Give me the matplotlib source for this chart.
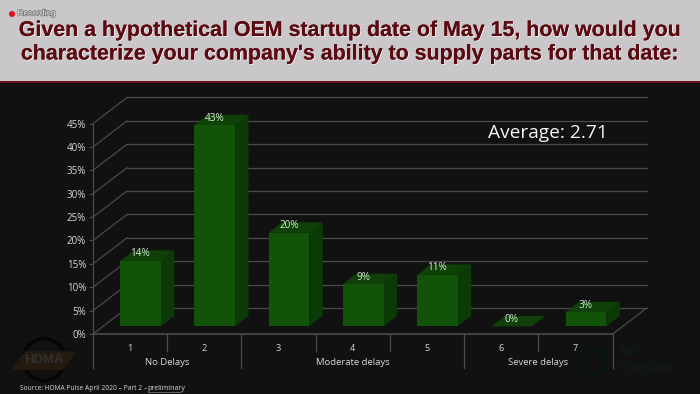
import numpy as np
import matplotlib
matplotlib.use("Agg")
import matplotlib.pyplot as plt
import matplotlib.patheffects as pe
from matplotlib.patches import Rectangle, Circle

ratings = [1, 2, 3, 4, 5, 6, 7]
shares = [14, 43, 20, 9, 11, 0, 3]
share_labels = ["14%", "43%", "20%", "9%", "11%", "0%", "3%"]
y_ticks = [0, 5, 10, 15, 20, 25, 30, 35, 40, 45]
groups = ["No Delays", "Moderate delays", "Severe delays"]
group_edges = [0.5, 2.5, 5.5, 7.5]

W, H = 700, 394
BG = "#111112"
GRID = "#4a4a4a"
TXT = "#d8d8d8"

fig = plt.figure(figsize=(7, 3.94), dpi=100, facecolor=BG)

# full figure overlay in pixel coords, for header and annotations
page = fig.add_axes([0, 0, 1, 1], zorder=0)
page.set_xlim(0, W)
page.set_ylim(H, 0)
page.axis("off")
page.add_patch(Rectangle((0, 0), W, 81, fc="#c9c7ca", ec="none"))
page.add_patch(Rectangle((0, 81), W, 2, fc="#6a0f14", ec="none"))
page.add_patch(Circle((12, 14), 3, fc="#e01020", ec="none"))
page.text(17.5, 14, "Recording", color="#e8e8e8", fontsize=6, va="center",
          family="Liberation Sans",
          path_effects=[pe.withStroke(linewidth=1, foreground="#777777")])

title_lines = [
    "Given a hypothetical OEM startup date of May 15, how would you",
    "characterize your company's ability to supply parts for that date:",
]
for y, line in zip([30.5, 54], title_lines):
    page.text(350.5, y, line, color="#5a0a10", fontsize=15.4, fontweight="bold",
              family="Liberation Sans", ha="center", va="center",
              path_effects=[pe.withSimplePatchShadow(offset=(0.6, -0.6), shadow_rgbFace="#ffffff", alpha=0.8), pe.Normal()])

page.text(548, 132.5, "Average: 2.71", color="#f4f4f4", fontsize=13.8,
          family="Open Sans", ha="center", va="center")
page.text(20, 388, "Source: HDMA Pulse April 2020 – Part 2 – ", color=TXT, fontsize=4.8,
          family="Open Sans", va="center")
page.text(147.7, 388, "preliminary", color=TXT, fontsize=5,
          family="Open Sans", va="center")
page.plot([147.7, 181], [391.5, 391.5], color="#a0a0a0", lw=0.4)

# faint logos
page.add_patch(Circle((44, 359.5), 21, fc="none", ec="#050505", lw=2.5))
page.fill([25, 75, 63, 13], [352, 352, 369, 369], color="#241a10")
page.text(44, 360, "HDMA", color="#303030", fontsize=9.5, fontweight="bold",
          family="Liberation Sans", ha="center", va="center")
page.add_patch(Circle((594, 362), 13, fc="none", ec="#0c1610", lw=4))
page.text(617, 352, "Auto", color="#0e1a13", fontsize=9, fontweight="bold",
          family="Liberation Sans", va="center")
page.text(617, 368, "Company", color="#0e1a13", fontsize=9, fontweight="bold",
          family="Liberation Sans", va="center")

# chart axes: front face of the pseudo 3D box
x0, x1, y0, y1 = 93.0, 612.7, 334.0, 123.5
ax = fig.add_axes([x0 / W, 1 - y0 / H, (x1 - x0) / W, (y0 - y1) / H], zorder=1)
ax.patch.set_alpha(0)
ax.set_xlim(0.5, 7.5)
ax.set_ylim(0, 45)
for s in ax.spines.values():
    s.set_visible(False)

# depth of the box and of the bars, in data units
px = 7 / (x1 - x0)
py = 45 / (y0 - y1)
box_dx, box_dy = 34 * px, 26 * py
bar_w = 40.7 * px
bar_dx, bar_dy = 13.5 * px, 10.5 * py
bar_ox, bar_oy = 10.3 * px, 7.6 * py

for v in y_ticks:
    ax.plot([0.5, 0.5 + box_dx], [v, v + box_dy], color=GRID, lw=0.9, clip_on=False, zorder=1)
    ax.plot([0.5 + box_dx, 7.5 + box_dx], [v + box_dy, v + box_dy], color=GRID, lw=0.9,
            clip_on=False, zorder=1)
ax.plot([7.5, 7.5 + box_dx], [0, box_dy], color=GRID, lw=0.9, clip_on=False, zorder=1)
ax.plot([0.5, 0.5], [0, 45], color=GRID, lw=0.9, clip_on=False, zorder=1)
ax.plot([0.5, 7.5], [0, 0], color=GRID, lw=1.2, clip_on=False, zorder=1)

for r, v, lab in zip(ratings, shares, share_labels):
    left = r + bar_ox - bar_w / 2
    right = left + bar_w
    bot = bar_oy
    top = bot + v
    ax.fill([right, right + bar_dx, right + bar_dx, right],
            [bot, bot + bar_dy, top + bar_dy, top], color="#0b3a06", lw=0, zorder=3, clip_on=False)
    ax.fill([left, left + bar_dx, right + bar_dx, right],
            [top, top + bar_dy, top + bar_dy, top], color="#0e4007", lw=0, zorder=3, clip_on=False)
    if v > 0:
        ax.fill([left, right, right, left], [bot, bot, top, top], color="#115407", lw=0, zorder=3,
                clip_on=False)
    ax.text((left + right) / 2, top + 7 * py, lab, color="#d8ecd8",
            fontsize=7.2, family="Open Sans", ha="center", va="center", zorder=4)

ax.set_yticks(y_ticks)
ax.set_yticklabels([f"{v}%" for v in y_ticks], color=TXT, fontsize=7, family="Open Sans")
ax.tick_params(axis="y", length=3, color=GRID, width=0.8, pad=2)
ax.set_xticks(ratings)
ax.set_xticklabels([str(r) for r in ratings], color=TXT, fontsize=6.6, family="Open Sans")
ax.tick_params(axis="x", length=0, pad=7)

# two-level category axis separators
to_y = lambda p: -p * py
for k in range(8):
    pos = 0.5 + k
    depth = 33.5 if pos in group_edges else 17
    ax.plot([pos, pos], [0, to_y(depth)], color=GRID, lw=0.9, clip_on=False, zorder=1)
for name, a, b in zip(groups, group_edges[:-1], group_edges[1:]):
    ax.text((a + b) / 2, to_y(28.5), name, color=TXT, fontsize=6.8, family="Open Sans",
            ha="center", va="center")

fig.savefig("out.png", dpi=100, facecolor=BG)
